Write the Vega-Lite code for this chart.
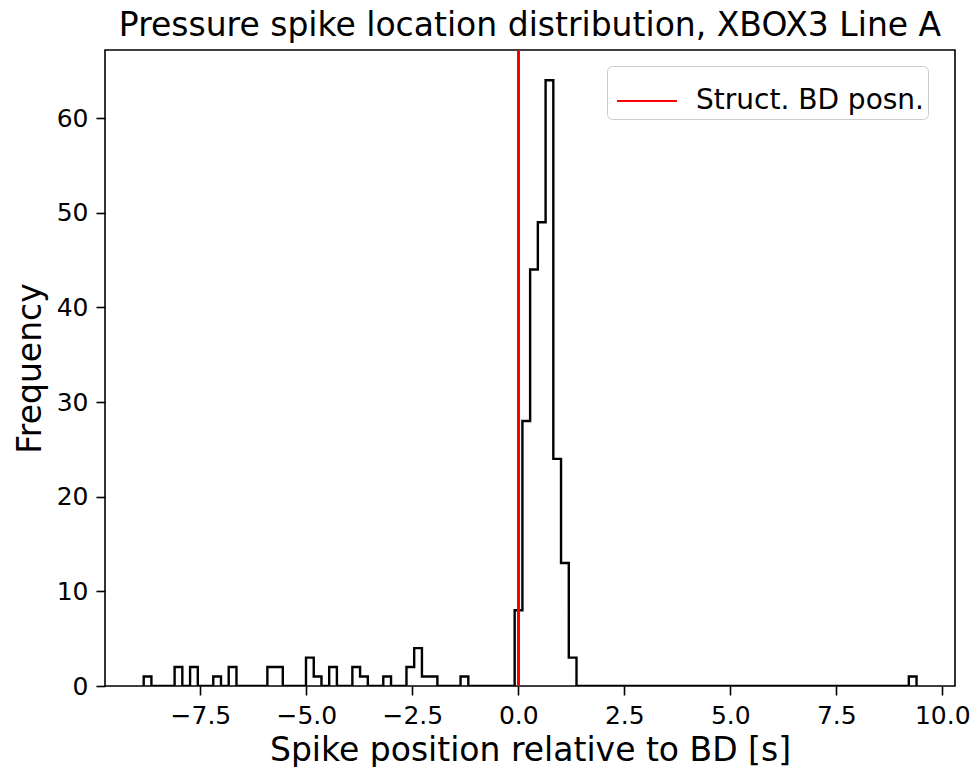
{
  "$schema": "https://vega.github.io/schema/vega-lite/v6.json",
  "width": 850,
  "height": 636,
  "autosize": {"type": "none"},
  "padding": {"left": 105, "top": 50, "right": 20, "bottom": 81},
  "background": "white",
  "title": {
    "text": "Pressure spike location distribution, XBOX3 Line A",
    "font": "DejaVu Sans",
    "fontSize": 33,
    "fontWeight": "normal",
    "color": "black",
    "anchor": "middle",
    "baseline": "alphabetic",
    "offset": 13,
    "dy": 33
  },
  "config": {
    "view": {"stroke": "black", "strokeWidth": 1.6},
    "axis": {
      "domain": false,
      "grid": false,
      "ticks": true,
      "tickColor": "black",
      "tickWidth": 1.6,
      "tickSize": 9,
      "labelFont": "DejaVu Sans",
      "labelFontSize": 25,
      "labelColor": "black",
      "labelPadding": 8,
      "titleFont": "DejaVu Sans",
      "titleFontSize": 33,
      "titleFontWeight": "normal",
      "titleColor": "black"
    }
  },
  "data": {
    "values": [
      {"i": 0, "edge": -8.837, "count": 0},
      {"i": 1, "edge": -8.837, "count": 1},
      {"i": 2, "edge": -8.655, "count": 0},
      {"i": 3, "edge": -8.108, "count": 2},
      {"i": 4, "edge": -7.926, "count": 0},
      {"i": 5, "edge": -7.743, "count": 2},
      {"i": 6, "edge": -7.561, "count": 0},
      {"i": 7, "edge": -7.196, "count": 1},
      {"i": 8, "edge": -7.014, "count": 0},
      {"i": 9, "edge": -6.832, "count": 2},
      {"i": 10, "edge": -6.649, "count": 0},
      {"i": 11, "edge": -5.920, "count": 2},
      {"i": 12, "edge": -5.738, "count": 2},
      {"i": 13, "edge": -5.556, "count": 0},
      {"i": 14, "edge": -5.009, "count": 3},
      {"i": 15, "edge": -4.826, "count": 1},
      {"i": 16, "edge": -4.644, "count": 0},
      {"i": 17, "edge": -4.462, "count": 2},
      {"i": 18, "edge": -4.280, "count": 0},
      {"i": 19, "edge": -3.915, "count": 2},
      {"i": 20, "edge": -3.733, "count": 1},
      {"i": 21, "edge": -3.550, "count": 0},
      {"i": 22, "edge": -3.186, "count": 1},
      {"i": 23, "edge": -3.003, "count": 0},
      {"i": 24, "edge": -2.639, "count": 2},
      {"i": 25, "edge": -2.457, "count": 4},
      {"i": 26, "edge": -2.274, "count": 1},
      {"i": 27, "edge": -2.092, "count": 1},
      {"i": 28, "edge": -1.910, "count": 0},
      {"i": 29, "edge": -1.363, "count": 1},
      {"i": 30, "edge": -1.180, "count": 0},
      {"i": 31, "edge": -0.087, "count": 8},
      {"i": 32, "edge": 0.096, "count": 28},
      {"i": 33, "edge": 0.278, "count": 44},
      {"i": 34, "edge": 0.460, "count": 49},
      {"i": 35, "edge": 0.643, "count": 64},
      {"i": 36, "edge": 0.825, "count": 24},
      {"i": 37, "edge": 1.007, "count": 13},
      {"i": 38, "edge": 1.190, "count": 3},
      {"i": 39, "edge": 1.372, "count": 0},
      {"i": 40, "edge": 9.211, "count": 1},
      {"i": 41, "edge": 9.393, "count": 0}
    ]
  },
  "layer": [
    {
      "mark": {"type": "line", "interpolate": "step-after", "color": "black", "strokeWidth": 2.4, "clip": true},
      "encoding": {
        "x": {
          "field": "edge",
          "type": "quantitative",
          "scale": {"domain": [-9.75, 10.3], "nice": false, "zero": false},
          "axis": {"values": [-7.5, -5, -2.5, 0, 2.5, 5, 7.5, 10], "format": ".1f", "title": "Spike position relative to BD [s]", "titlePadding": 6}
        },
        "y": {
          "field": "count",
          "type": "quantitative",
          "scale": {"domain": [0, 67.2], "nice": false},
          "axis": {"values": [0, 10, 20, 30, 40, 50, 60], "title": "Frequency", "titlePadding": 9}
        },
        "order": {"field": "i", "type": "quantitative"}
      }
    },
    {
      "mark": {"type": "rule", "strokeWidth": 1.8},
      "encoding": {
        "x": {"datum": 0},
        "color": {
          "datum": "Struct. BD posn.",
          "type": "nominal",
          "scale": {"range": ["#ff0000"]},
          "legend": {
            "title": null,
            "orient": "none",
            "legendX": 502,
            "legendY": 16,
            "symbolType": "stroke",
            "symbolSize": 3600,
            "symbolStrokeWidth": 2,
            "symbolOffset": 5,
            "labelFont": "DejaVu Sans",
            "labelFontSize": 28,
            "labelColor": "black",
            "labelOffset": 18,
            "labelLimit": 500,
            "padding": 4,
            "strokeColor": "#cccccc",
            "fillColor": "rgba(255,255,255,0.8)",
            "cornerRadius": 5
          }
        }
      }
    }
  ]
}
